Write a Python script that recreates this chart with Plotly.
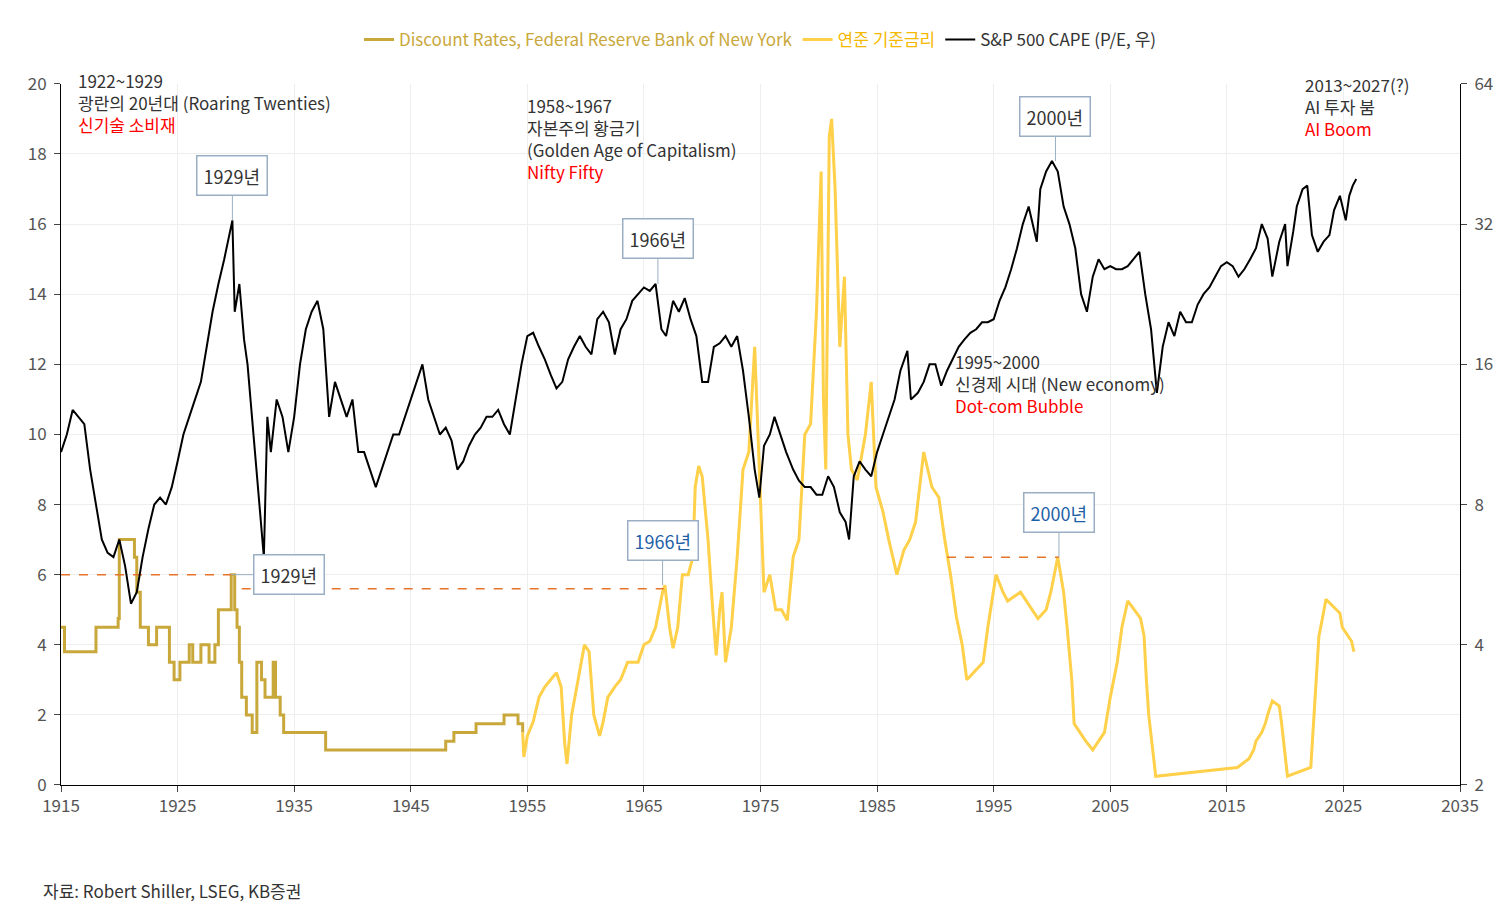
import math
import plotly.graph_objects as go

# S&P 500 CAPE (right axis, log scale)
cape_year = [1915.0, 1915.5, 1916, 1916.5, 1917, 1917.5, 1918, 1918.5, 1919, 1919.5, 1920, 1920.5, 1921, 1921.5,
             1922, 1922.5, 1923, 1923.5, 1924, 1924.5, 1925, 1925.5, 1926, 1926.5, 1927, 1927.5, 1928, 1928.5,
             1929, 1929.7, 1929.9, 1930.3, 1930.7, 1931, 1931.5, 1932, 1932.4, 1932.7, 1933, 1933.5, 1934, 1934.5,
             1935, 1935.5, 1936, 1936.5, 1937, 1937.5, 1938, 1938.5, 1939, 1939.5, 1940, 1940.5, 1941, 1941.5,
             1942, 1942.5, 1943, 1943.5, 1944, 1944.5, 1945, 1945.5, 1946, 1946.5, 1947, 1947.5, 1948, 1948.5,
             1949, 1949.5, 1950, 1950.5, 1951, 1951.5, 1952, 1952.5, 1953, 1953.5, 1954, 1954.5, 1955, 1955.5,
             1956, 1956.5, 1957, 1957.5, 1958, 1958.5, 1959, 1959.5, 1960, 1960.5, 1961, 1961.5, 1962, 1962.5,
             1963, 1963.5, 1964, 1964.5, 1965, 1965.5, 1966, 1966.5, 1966.9, 1967.5, 1968, 1968.5, 1969, 1969.5,
             1970, 1970.5, 1971, 1971.5, 1972, 1972.5, 1973, 1973.5, 1974, 1974.5, 1974.9, 1975.3, 1975.8, 1976.2,
             1976.7, 1977.2, 1977.8, 1978.3, 1978.8, 1979.3, 1979.8, 1980.3, 1980.8, 1981.3, 1981.8, 1982.3, 1982.6,
             1983, 1983.5, 1984, 1984.5, 1985, 1985.5, 1986, 1986.5, 1987, 1987.6, 1987.9, 1988.5, 1989, 1989.5,
             1990, 1990.5, 1991, 1991.5, 1992, 1992.5, 1993, 1993.5, 1994, 1994.5, 1995, 1995.5, 1996, 1996.5,
             1997, 1997.5, 1998, 1998.7, 1999, 1999.5, 2000, 2000.5, 2001, 2001.5, 2002, 2002.5, 2003, 2003.5,
             2004, 2004.5, 2005, 2005.5, 2006, 2006.5, 2007, 2007.5, 2008, 2008.5, 2009, 2009.5, 2010, 2010.5,
             2011, 2011.5, 2012, 2012.5, 2013, 2013.5, 2014, 2014.5, 2015, 2015.5, 2016, 2016.5, 2017, 2017.5,
             2018, 2018.5, 2018.9, 2019.5, 2020, 2020.2, 2020.7, 2021, 2021.5, 2021.9, 2022.3, 2022.8, 2023.3,
             2023.8, 2024.2, 2024.7, 2025.2, 2025.5, 2025.8, 2026.1]
cape_val = [10.37, 11.31, 12.77, 12.34, 11.9, 9.51, 8, 6.73, 6.3, 6.17, 6.73, 5.9, 4.9, 5.19,
            6.17, 7.1, 8, 8.28, 8, 8.72, 9.9, 11.31, 12.34, 13.45, 14.67, 17.45, 20.75, 23.8,
            26.9, 32.6, 20.75, 23.8, 18.1, 16, 11.31, 8, 6.17, 12.34, 10.37, 13.45, 12.34, 10.37,
            12.34, 16, 19.03, 20.75, 21.9, 19.03, 12.34, 14.67, 13.45, 12.34, 13.45, 10.37, 10.37, 9.51,
            8.72, 9.51, 10.37, 11.31, 11.31, 12.34, 13.45, 14.67, 16, 13.45, 12.34, 11.31, 11.7, 10.97,
            9.51, 9.9, 10.7, 11.31, 11.7, 12.34, 12.34, 12.77, 11.9, 11.31, 13.45, 16, 18.4, 18.7,
            17.45, 16.4, 15.2, 14.2, 14.67, 16.4, 17.45, 18.4, 17.45, 16.8, 20.0, 20.75, 19.7, 16.8,
            19.03, 20.0, 21.9, 22.63, 23.4, 23.0, 23.8, 19.03, 18.4, 21.9, 20.75, 22.2, 20.0, 18.4,
            14.67, 14.67, 17.45, 17.75, 18.4, 17.45, 18.4, 15.5, 12.34, 9.51, 8.28, 10.7, 11.31, 12.34,
            11.31, 10.37, 9.51, 9.0, 8.72, 8.72, 8.4, 8.4, 9.2, 8.72, 7.7, 7.34, 6.73,
            9.2, 9.9, 9.51, 9.2, 10.37, 11.31, 12.34, 13.45, 15.5, 17.1, 13.45, 13.9, 14.67, 16,
            16, 14.4, 15.5, 16.4, 17.45, 18.1, 18.7, 19.03, 19.7, 19.7, 20.0, 21.9, 23.4, 25.6,
            28.4, 32, 34.9, 29.34, 38.05, 41.5, 43.7, 41.5, 34.9, 32, 28.4, 22.63, 20.75, 24.68,
            26.9, 25.6, 26.0, 25.6, 25.6, 26.0, 26.9, 27.9, 22.63, 19.03, 13.9, 17.45, 19.7, 18.4,
            20.75, 19.7, 19.7, 21.5, 22.63, 23.4, 24.68, 26.0, 26.5, 26.0, 24.68, 25.6, 26.9, 28.4,
            32, 29.8, 24.68, 29.34, 32, 26.0, 30.9, 34.9, 38.05, 38.7, 30.3, 27.9, 29.34,
            30.3, 34.3, 36.8, 32.6, 36.8, 38.7, 40.0]

# Discount rate, FRBNY (step values)
disc_year = [1915.0, 1915.3, 1918.0, 1919.9, 1920.0, 1921.3, 1921.5, 1921.8, 1922.5, 1923.2, 1924.3, 1924.7,
             1925.2, 1926.0, 1926.3, 1927.0, 1927.7, 1928.2, 1928.5, 1929.6, 1929.9, 1930.1, 1930.3, 1930.5,
             1930.9, 1931.4, 1931.8, 1932.2, 1932.5, 1933.2, 1933.4, 1933.8, 1934.1, 1937.7, 1948.0, 1948.7,
             1950.6, 1953.0, 1954.2, 1954.6]
disc_val = [4.5, 3.8, 4.5, 4.75, 7.0, 6.5, 5.5, 4.5, 4.0, 4.5, 3.5, 3.0,
            3.5, 4.0, 3.5, 4.0, 3.5, 4.0, 5.0, 6.0, 5.0, 4.5, 3.5, 2.5,
            2.0, 1.5, 3.5, 3.0, 2.5, 3.5, 2.5, 2.0, 1.5, 1.0, 1.25, 1.5,
            1.75, 2.0, 1.75, 1.5]

# Fed funds rate
ff_year = [1954.6, 1954.7, 1955, 1955.5, 1956, 1956.5, 1957, 1957.5, 1957.9, 1958.2, 1958.4, 1958.8, 1959.3,
           1959.9, 1960.3, 1960.7, 1961.2, 1961.5, 1961.9, 1962.5, 1963, 1963.6, 1964.5, 1965, 1965.5, 1966,
           1966.6, 1966.8, 1967.2, 1967.5, 1967.9, 1968.3, 1968.8, 1969.2, 1969.4, 1969.7, 1970, 1970.5, 1970.9,
           1971.2, 1971.5, 1971.7, 1972, 1972.5, 1973, 1973.5, 1974, 1974.5, 1974.9, 1975.3, 1975.8, 1976.3,
           1976.8, 1977.3, 1977.8, 1978.3, 1978.8, 1979.3, 1979.8, 1980.2, 1980.4, 1980.6, 1980.9, 1981.1,
           1981.4, 1981.8, 1982.2, 1982.5, 1982.8, 1983.3, 1984, 1984.5, 1984.9, 1985.5, 1986, 1986.7, 1987.3,
           1987.8, 1988.3, 1989, 1989.7, 1990.3, 1990.8, 1991.3, 1991.8, 1992.3, 1992.7, 1994.1, 1994.5, 1995,
           1995.2, 1995.8, 1996.2, 1997.3, 1998.8, 1999.5, 1999.9, 2000.5, 2001, 2001.3, 2001.7, 2001.9, 2002.9,
           2003.5, 2004.5, 2005, 2005.6, 2006, 2006.5, 2007.6, 2007.9, 2008.1, 2008.3, 2008.9, 2015.9, 2016.9,
           2017.3, 2017.5, 2018, 2018.3, 2018.5, 2018.9, 2019.5, 2019.7, 2020.2, 2022.2, 2022.4, 2022.6, 2022.8,
           2022.9, 2023.2, 2023.5, 2024.7, 2024.9, 2025.7, 2025.9]
ff_val = [1.5, 0.8, 1.4, 1.8, 2.5, 2.8, 3.0, 3.2, 2.8, 1.2, 0.6, 2.0, 2.9,
          4.0, 3.8, 2.0, 1.4, 1.8, 2.5, 2.8, 3.0, 3.5, 3.5, 4.0, 4.1, 4.5,
          5.5, 5.7, 4.5, 3.9, 4.5, 6.0, 6.0, 6.5, 8.5, 9.1, 8.8, 7.0, 5.0,
          3.7, 5.0, 5.5, 3.5, 4.5, 6.5, 9.0, 9.5, 12.5, 9.0, 5.5, 6.0, 5.0,
          5.0, 4.7, 6.5, 7.0, 10.0, 10.3, 13.5, 17.5, 11.0, 9.0, 18.5, 19.0,
          17.0, 12.5, 14.5, 10.0, 9.0, 8.7, 10.0, 11.5, 8.5, 7.8, 7.0, 6.0, 6.7,
          7.0, 7.5, 9.5, 8.5, 8.2, 7.0, 6.0, 4.8, 4.0, 3.0, 3.5, 4.5, 5.5,
          6.0, 5.5, 5.25, 5.5, 4.75, 5.0, 5.5, 6.5, 5.5, 4.5, 3.0, 1.75, 1.25,
          1.0, 1.5, 2.5, 3.5, 4.5, 5.25, 4.75, 4.25, 3.0, 2.0, 0.25, 0.5, 0.75,
          1.0, 1.25, 1.5, 1.75, 2.0, 2.4, 2.25, 1.75, 0.25, 0.5, 1.5, 2.5, 3.5,
          4.25, 4.75, 5.3, 4.9, 4.5, 4.1, 3.8]

# orange dashed reference lines (peak rate levels)
ref1_x, ref1_y = [1915, 1929.6], [6.0, 6.0]
ref2_x, ref2_y = [1930.5, 1966.7], [5.6, 5.6]
ref3_x, ref3_y = [1991, 2000.6], [6.5, 6.5]

GOLD = "#C9A83B"
YELLOW = "#FFD04A"
FONT = "Noto Sans CJK KR"

fig = go.Figure()
fig.add_trace(go.Scatter(x=disc_year, y=disc_val, mode="lines", line=dict(color=GOLD, width=3, shape="hv"),
                         name="<span style='color:%s'>Discount Rates, Federal Reserve Bank of New York</span>" % GOLD))
fig.add_trace(go.Scatter(x=ff_year, y=ff_val, mode="lines", line=dict(color=YELLOW, width=3),
                         name="<span style='color:#F5B800'>연준 기준금리</span>"))
fig.add_trace(go.Scatter(x=cape_year, y=cape_val, mode="lines", line=dict(color="black", width=2),
                         name="S&P 500 CAPE (P/E, 우)", yaxis="y2"))
for rx, ry in [(ref1_x, ref1_y), (ref2_x, ref2_y), (ref3_x, ref3_y)]:
    fig.add_trace(go.Scatter(x=rx, y=ry, mode="lines", line=dict(color="#E8732A", width=1.5, dash="dash"),
                             showlegend=False, hoverinfo="skip"))

anns = []
def label(x, y, text, color="#333333", xanchor="left", size=17):
    anns.append(dict(x=x, y=y, xref="x", yref="paper", text=text, showarrow=False, xanchor=xanchor,
                     yanchor="top", align="left", font=dict(color=color, size=size)))

label(1916.3, 1.025, "1922~1929<br>광란의 20년대 (Roaring Twenties)<br><span style='color:red'>신기술 소비재</span>")
label(1954.8, 0.99, "1958~1967<br>자본주의 황금기<br>(Golden Age of Capitalism)<br><span style='color:red'>Nifty Fifty</span>")
label(1991.5, 0.625, "1995~2000<br>신경제 시대 (New economy)<br><span style='color:red'>Dot-com Bubble</span>")
label(2021.5, 1.02, "2013~2027(?)<br>AI 투자 붐<br><span style='color:red'>AI Boom</span>")

def callout(x, y, text, ax, ay, color="#333333", yref="y"):
    yy = math.log10(y) if yref == "y2" else y
    anns.append(dict(x=x, y=yy, xref="x", yref=yref, text=text, showarrow=True, arrowhead=0, arrowwidth=1,
                     arrowcolor="#9AAFC4", ax=ax, ay=ay, bordercolor="#9AAFC4", borderwidth=1.5, borderpad=6,
                     bgcolor="white", font=dict(color=color, size=18)))

callout(1929.7, 32.6, "1929년", 0, -45, yref="y2")
callout(1966.2, 23.8, "1966년", 0, -45, yref="y2")
callout(2000.3, 43.7, "2000년", 0, -45, yref="y2")
callout(1929.6, 6.0, "1929년", 58, 0)
callout(1966.6, 5.7, "1966년", 0, -45, color="#1F5FA8")
callout(2000.6, 6.5, "2000년", 0, -45, color="#1F5FA8")

anns.append(dict(x=0.0, y=-0.13, xref="paper", yref="paper", text="자료: Robert Shiller, LSEG, KB증권",
                 showarrow=False, xanchor="left", yanchor="top", xshift=-20, font=dict(size=17, color="#333333")))

fig.update_layout(
    width=1504, height=922,
    margin=dict(l=53, r=52, t=57, b=145),
    paper_bgcolor="white", plot_bgcolor="white",
    font=dict(family=FONT, color="#333333", size=17),
    legend=dict(orientation="h", x=0.5, xanchor="center", y=0.985, yanchor="top", yref="container",
                font=dict(size=17)),
    xaxis=dict(range=[1915, 2035], dtick=10, tick0=1915, showgrid=True, gridcolor="#EEEEEE",
               showline=True, linecolor="black", ticks="outside", ticklen=6, zeroline=False,
               tickfont=dict(color="#555555")),
    yaxis=dict(range=[0, 20], dtick=2, showgrid=True, gridcolor="#EEEEEE", showline=True, linecolor="black",
               ticks="outside", ticklen=6, zeroline=False, tickfont=dict(color="#555555"), ticklabelstandoff=4),
    yaxis2=dict(type="log", range=[0.30103, 1.80618], overlaying="y", side="right", tickvals=[2, 4, 8, 16, 32, 64],
                showgrid=False, showline=True, linecolor="black", ticks="outside", ticklen=6,
                tickfont=dict(color="#555555"), ticklabelstandoff=4),
    annotations=anns,
)

fig.write_html("out.html")
